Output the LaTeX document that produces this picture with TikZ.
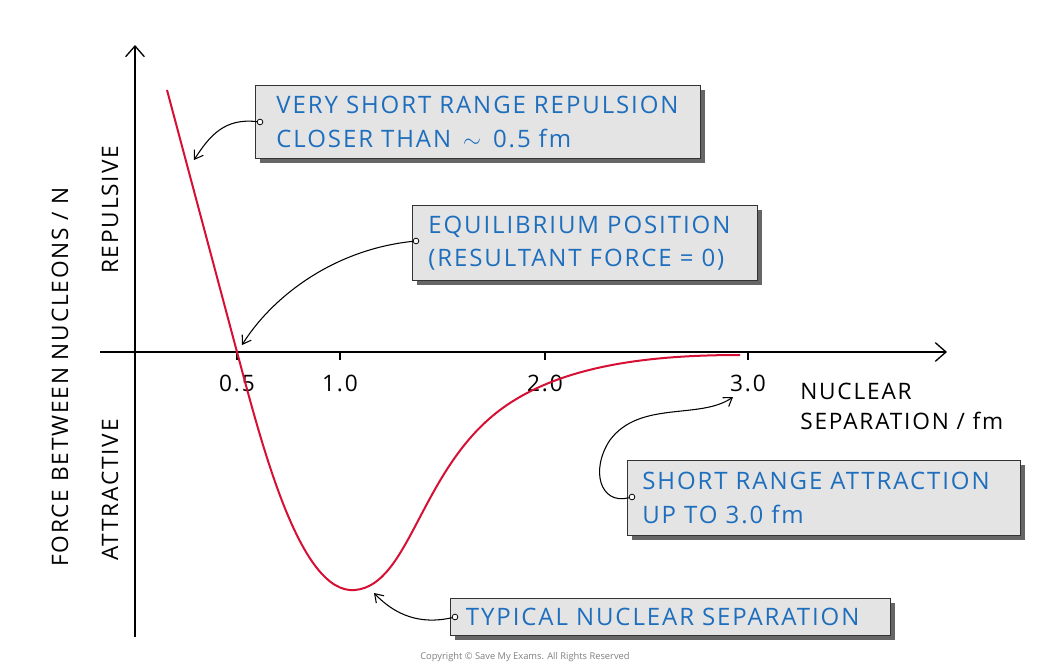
\documentclass[tikz,border=0pt]{standalone}
\usepackage{fontspec}
\setmainfont{Open Sans}
\usetikzlibrary{arrows.meta}
\definecolor{curve}{RGB}{214,16,52}
\definecolor{lbl}{RGB}{30,110,190}
\definecolor{boxfill}{RGB}{228,228,228}
\tikzset{
 box/.style={draw=black!80,fill=boxfill,line width=0.8pt,text=lbl,align=left,inner xsep=0pt,inner ysep=5pt,anchor=north west,font=\fontsize{18}{25}\selectfont\addfontfeatures{LetterSpace=8}},
 pin/.style={circle,draw=black,fill=white,inner sep=1.5pt,line width=0.6pt},
 callout/.style={-{Straight Barb[length=6pt,width=8pt]},line width=0.8pt},
 axis/.style={line width=1pt,-{Straight Barb[length=8pt,width=14pt]}},
 ax/.style={font=\fontsize{17}{22}\selectfont\addfontfeatures{LetterSpace=8}},
}
\begin{document}
\begin{tikzpicture}[x=0.75pt,y=-0.75pt]
\useasboundingbox[fill=white] (0,0) rectangle (1050,671);
\coordinate (yb) at (135,637); \coordinate (yt) at (135,45);
\coordinate (xl) at (100,352); \coordinate (xr) at (947,352);
\draw[axis] (yb) -- (yt);
\draw[axis] (xl) -- (xr);
\foreach \x/\t in {237/0.5,340/1.0,545/2.0,748/3.0}{
 \draw[line width=0.8pt] (\x,352) -- (\x,360);
 \node[ax] (t\x) at (\x,383) {\t};}
\draw[curve,line width=1.5pt] (167,90) -- (237,352)
 .. controls (262,445) and (300,595) .. (355,590)
 .. controls (410,585) and (420,470) .. (500,410)
 .. controls (560,365) and (650,355) .. (740,355);
\node[ax,rotate=90] (fy) at (60,377) {FORCE BETWEEN NUCLEONS / N};
\node[ax,rotate=90] (rep) at (110,210) {REPULSIVE};
\node[ax,rotate=90] (att) at (110,490) {ATTRACTIVE};
\node[ax,align=left,anchor=north west,inner sep=0pt] (nx) at (800,383) {NUCLEAR\\SEPARATION / fm};
\fill[black!60] (260,90) rectangle (705,163);
\node[box,minimum width=445*0.75pt,minimum height=73*0.75pt,text width=430*0.75pt,inner xsep=0pt] (b1) at (255,85) {\hspace*{10pt}VERY SHORT RANGE REPULSION\\\hspace*{10pt}CLOSER THAN \,$\sim$\, 0.5 fm};
\fill[black!60] (417,210) rectangle (762,285);
\node[box,minimum width=345*0.75pt,minimum height=75*0.75pt,text width=340*0.75pt] (b2) at (412,205) {\hspace*{10pt}EQUILIBRIUM POSITION\\\hspace*{10pt}(RESULTANT FORCE = 0)};
\fill[black!60] (632,465) rectangle (1025,540);
\node[box,minimum width=393*0.75pt,minimum height=75*0.75pt,text width=390*0.75pt] (b3) at (627,460) {\hspace*{10pt}SHORT RANGE ATTRACTION\\\hspace*{10pt}UP TO 3.0 fm};
\fill[black!60] (455,603) rectangle (895,640);
\node[box,minimum width=440*0.75pt,minimum height=37*0.75pt,inner ysep=2pt,text width=436*0.75pt] (b4) at (450,598) {\hspace*{10pt}TYPICAL NUCLEAR SEPARATION};
\node[pin] (p1) at (260,122) {};
\node[pin] (p2) at (416,241) {};
\node[pin] (p3) at (632,497) {};
\node[pin] (p4) at (455,617) {};
\coordinate (e1) at (194,160);
\coordinate (e2) at (242,345);
\coordinate (e3) at (733,397);
\coordinate (e4) at (374,593);
\draw[callout] (p1) .. controls (225,118) and (210,135) .. (e1);
\draw[callout] (p2) .. controls (330,250) and (270,300) .. (e2);
\draw[callout] (p3) .. controls (600,505) and (590,470) .. (610,440) .. controls (640,400) and (700,420) .. (e3);
\draw[callout] (p4) .. controls (420,625) and (395,615) .. (e4);
\node[font=\fontsize{7}{8}\selectfont,text=black!50] (cr) at (525,657) {Copyright © Save My Exams. All Rights Reserved};
\end{tikzpicture}
\end{document}
